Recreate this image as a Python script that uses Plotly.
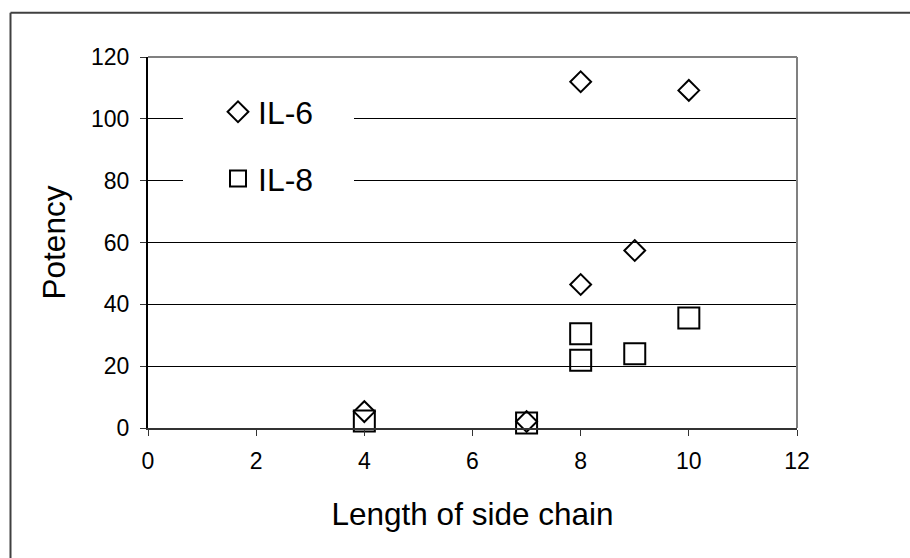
import plotly.graph_objects as go

x_il6 = [4, 7, 8, 8, 9, 10]
y_il6 = [5.3, 2.1, 112, 46.4, 57.4, 109.2]
x_il8 = [4, 7, 8, 8, 9, 10]
y_il8 = [2.3, 1.6, 30.5, 21.9, 24, 35.6]
x_ticks = [0, 2, 4, 6, 8, 10, 12]
y_ticks = [0, 20, 40, 60, 80, 100, 120]

FONT = "Liberation Sans, Arial, sans-serif"

fig = go.Figure()
fig.add_trace(go.Scatter(
    x=x_il6, y=y_il6, mode="markers", name="IL-6", legendgroup="a",
    cliponaxis=False,
    marker=dict(symbol="diamond-open", size=16, color="black", line=dict(width=2, color="black")),
))
fig.add_trace(go.Scatter(
    x=x_il8, y=y_il8, mode="markers", name="IL-8", legendgroup="b",
    cliponaxis=False,
    marker=dict(symbol="square-open", size=21, color="black", line=dict(width=2, color="black")),
))

W, H = 910, 558
L, R, T, B = 148, 797, 57, 428
pw, ph = R - L, B - T

def px(xp):
    return (xp - L) / pw

def py(yp):
    return (B - yp) / ph

shapes = [
    # white box behind legend (covers gridlines)
    dict(type="rect", xref="paper", yref="paper", x0=px(183), x1=px(354), y0=py(205), y1=py(88),
         fillcolor="white", line=dict(width=0), layer="above"),
    # top / right plot border (grey)
    dict(type="line", xref="paper", yref="paper", x0=0, x1=1, y0=1, y1=1,
         line=dict(color="#808080", width=2)),
    dict(type="line", xref="paper", yref="paper", x0=1, x1=1, y0=0, y1=1,
         line=dict(color="#808080", width=2)),
    # outer frame (top and left)
    dict(type="line", xref="paper", yref="paper", x0=px(10.5), x1=px(W + 5), y0=py(12.7), y1=py(12.7),
         line=dict(color="#404040", width=2)),
    dict(type="line", xref="paper", yref="paper", x0=px(10.5), x1=px(10.5), y0=py(12.7), y1=py(H + 5),
         line=dict(color="#404040", width=2)),
]

fig.update_layout(
    width=W, height=H,
    margin=dict(l=L, r=W - R, t=T, b=H - B, pad=0),
    paper_bgcolor="white", plot_bgcolor="white",
    font=dict(family=FONT, color="black"),
    showlegend=True,
    legend=dict(
        x=px(218), y=py(84.5), xanchor="left", yanchor="top",
        bgcolor="rgba(0,0,0,0)", borderwidth=0,
        font=dict(size=32, family=FONT, color="black"),
        traceorder="grouped", tracegroupgap=22,
        itemsizing="trace",
    ),
    shapes=shapes,
    xaxis=dict(
        range=[0, 12], tickvals=x_ticks, ticktext=[str(v) for v in x_ticks],
        showgrid=False, zeroline=False,
        showline=True, linecolor="#333333", linewidth=2,
        ticks="outside", ticklen=6, tickwidth=1, tickcolor="#333333",
        ticklabelstandoff=5,
        tickfont=dict(size=23, family=FONT, color="black"),
        title=dict(text="Length of side chain", font=dict(size=31.5, family=FONT, color="black"), standoff=30),
    ),
    yaxis=dict(
        range=[0, 120], tickvals=y_ticks, ticktext=[str(v) for v in y_ticks],
        showgrid=True, gridcolor="black", gridwidth=1, zeroline=False,
        showline=True, linecolor="black", linewidth=2,
        ticks="outside", ticklen=6, tickwidth=1, tickcolor="#333333",
        ticklabelstandoff=6,
        tickfont=dict(size=23, family=FONT, color="black"),
        title=dict(text="Potency", font=dict(size=31.5, family=FONT, color="black"), standoff=16),
    ),
)

fig.write_html("out.html")
